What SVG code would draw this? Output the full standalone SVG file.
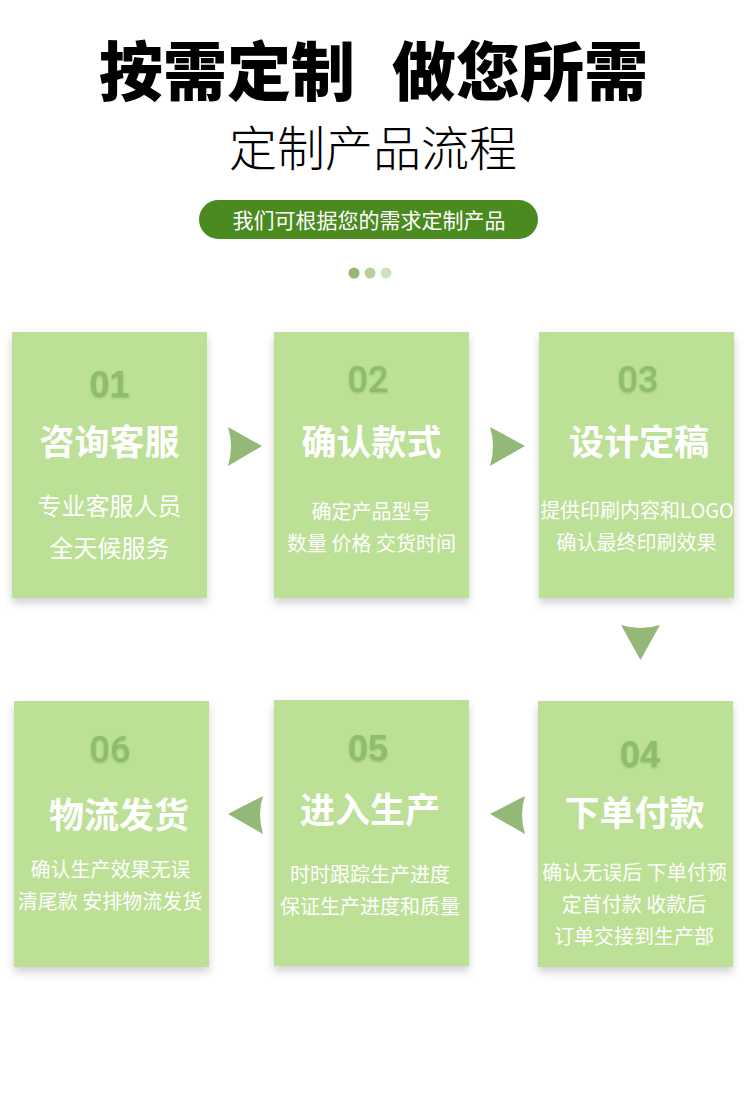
<svg xmlns="http://www.w3.org/2000/svg" width="750" height="1107" viewBox="0 0 750 1107">
<defs>
<style>
.cjk{font-family:"Noto Sans CJK SC","Noto Sans",sans-serif}
.box{fill:#bce095}
.num{font-family:"Liberation Sans",Arial,sans-serif;font-weight:bold;font-size:36px;fill:#8fbd70;text-anchor:middle}
.reg{font-family:Roboto,"Liberation Sans",sans-serif;font-weight:500}
.ttl{font-family:"Noto Sans CJK SC",sans-serif;font-weight:bold;font-size:35px;fill:#ffffff;text-anchor:middle}
.sub{font-family:"Noto Sans CJK SC",sans-serif;font-size:20px;fill:#ffffff;text-anchor:middle}
.big{font-size:24px}
.arr{fill:#93b878}
</style>
<filter id="sh" x="-20%" y="-20%" width="140%" height="140%">
<feDropShadow dx="0" dy="5" stdDeviation="4" flood-color="#000" flood-opacity="0.18"/>
</filter>
<filter id="nsh" x="-30%" y="-30%" width="160%" height="160%">
<feDropShadow dx="0" dy="1" stdDeviation="0.8" flood-color="#6a9a50" flood-opacity="0.5"/>
</filter>
</defs>
<rect width="750" height="1107" fill="#ffffff"/>
<g id="header">
<text x="227" y="95" class="cjk" font-size="64" font-weight="900" fill="#000" text-anchor="middle">按需定制</text>
<text x="520" y="95" class="cjk" font-size="64" font-weight="900" fill="#000" text-anchor="middle">做您所需</text>
<text x="373" y="166" class="cjk" font-size="48" font-weight="300" fill="#000" text-anchor="middle">定制产品流程</text>
<rect x="199" y="200" width="339" height="39" rx="19.5" fill="#4a8a1f"/>
<text x="369" y="228" class="cjk" font-size="21" fill="#ffffff" text-anchor="middle">我们可根据您的需求定制产品</text>
<circle cx="354" cy="273" r="5.5" fill="#93b878"/>
<circle cx="370" cy="273" r="5.5" fill="#b5d29e"/>
<circle cx="386" cy="273" r="5.5" fill="#cfe2bf"/>
</g>
<g id="connectors">
<path class="arr" d="M228,427 L262,446 L228,466 Q234,446 228,427 Z"/>
<path class="arr" d="M490,427 L525,446 L490,466 Q496,446 490,427 Z"/>
<path class="arr" d="M621,625 L640.5,660 L660,625 Q640.5,631 621,625 Z"/>
<path class="arr" d="M525,796 L490,814 L525,834 Q519,814 525,796 Z"/>
<path class="arr" d="M263,796 L228,814 L263,834 Q257,814 263,796 Z"/>
</g>
<g id="step01">
<rect class="box" x="12" y="332" width="195" height="266" filter="url(#sh)"/>
<text class="num" x="109.5" y="397" filter="url(#nsh)">01</text>
<text class="ttl" x="109.5" y="455">咨询客服</text>
<text class="sub big" x="109.5" y="515">专业客服人员</text>
<text class="sub big" x="109.5" y="557">全天候服务</text>
</g>
<g id="step02">
<rect class="box" x="274" y="332" width="195" height="266" filter="url(#sh)"/>
<text class="num reg" x="368" y="392" filter="url(#nsh)">02</text>
<text class="ttl" x="371.5" y="455">确认款式</text>
<text class="sub" x="371.5" y="519">确定产品型号</text>
<text class="sub" x="371.5" y="551">数量 价格 交货时间</text>
</g>
<g id="step03">
<rect class="box" x="539" y="332" width="195" height="266" filter="url(#sh)"/>
<text class="num reg" x="638" y="392" filter="url(#nsh)">03</text>
<text class="ttl" x="639" y="455">设计定稿</text>
<text class="sub" x="637" y="518">提供印刷内容和LOGO</text>
<text class="sub" x="636.5" y="550">确认最终印刷效果</text>
</g>
<g id="step04">
<rect class="box" x="538" y="701" width="195" height="266" filter="url(#sh)"/>
<text class="num" x="640" y="767" filter="url(#nsh)">04</text>
<text class="ttl" x="634.5" y="826">下单付款</text>
<text class="sub" x="634.5" y="880">确认无误后 下单付预</text>
<text class="sub" x="634" y="912">定首付款 收款后</text>
<text class="sub" x="634" y="944">订单交接到生产部</text>
</g>
<g id="step05">
<rect class="box" x="274" y="700" width="195" height="266" filter="url(#sh)"/>
<text class="num" x="368" y="761" filter="url(#nsh)">05</text>
<text class="ttl" x="370" y="823">进入生产</text>
<text class="sub" x="370" y="882">时时跟踪生产进度</text>
<text class="sub" x="370" y="914">保证生产进度和质量</text>
</g>
<g id="step06">
<rect class="box" x="14" y="701" width="195" height="266" filter="url(#sh)"/>
<text class="num reg" x="110" y="762" filter="url(#nsh)">06</text>
<text class="ttl" x="119" y="828">物流发货</text>
<text class="sub" x="110.5" y="877">确认生产效果无误</text>
<text class="sub" x="110" y="909">清尾款 安排物流发货</text>
</g>
</svg>
